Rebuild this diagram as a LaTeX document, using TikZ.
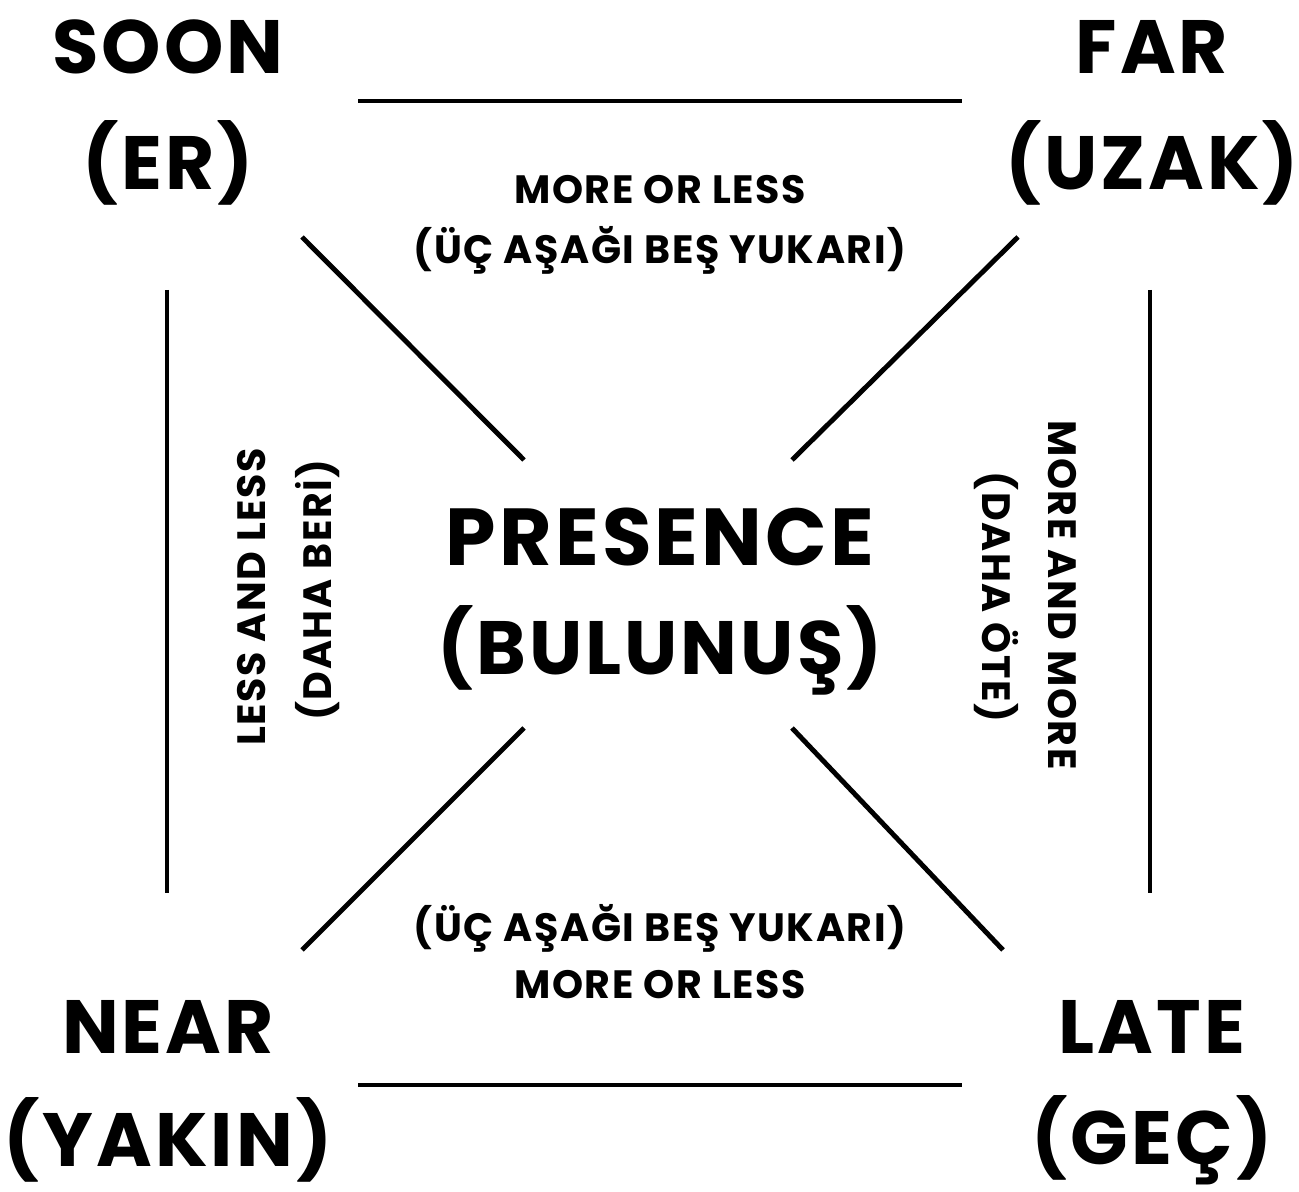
\documentclass[tikz,border=0pt]{standalone}
\usepackage{fontspec}
\setmainfont{Poppins}[LetterSpace=4]
\begin{document}
\begin{tikzpicture}[x=0.02cm,y=-0.02cm,
  ln/.style={line width=2.8pt},
  big/.style={font=\fontsize{43}{50}\selectfont\bfseries, inner sep=0pt, align=center},
  small/.style={font=\fontsize{22.5}{26}\selectfont\bfseries, inner sep=0pt}]
\useasboundingbox[fill=white] (0,0) rectangle (1299,1192);
% corner labels
\node[big] (soon) at (168,47) {SOON};
\node[big] (er) at (168,163) {(ER)};
\node[big] (far) at (1152,47) {FAR};
\node[big] (uzak) at (1152,163) {(UZAK)};
\node[big] (near) at (168,1027) {NEAR};
\node[big] (yakin) at (168,1140) {(YAKIN)};
\node[big] (late) at (1152,1027) {LATE};
\node[big] (gec) at (1152,1140) {(GEÇ)};
\node[big, font=\fontsize{46}{52}\selectfont\bfseries] (pres) at (660,537) {PRESENCE};
\node[big] (bul) at (660,650) {(BULUNUŞ)};
% edge labels
\node[small] (t1) at (660,190) {MORE OR LESS};
\node[small] (t2) at (660,250) {(ÜÇ AŞAĞI BEŞ YUKARI)};
\node[small] (b1) at (660,928) {(ÜÇ AŞAĞI BEŞ YUKARI)};
\node[small] (b2) at (660,985) {MORE OR LESS};
\node[small, rotate=90] (l1) at (252,597) {LESS AND LESS};
\node[small, rotate=90] (l2) at (318,590) {(DAHA BERİ)};
\node[small, rotate=-90] (r1) at (1062,595) {MORE AND MORE};
\node[small, rotate=-90] (r2) at (996,597) {(DAHA ÖTE)};
% line end points
\coordinate (a1) at (358,101); \coordinate (a2) at (962,101);
\coordinate (c1) at (358,1085); \coordinate (c2) at (962,1085);
\coordinate (v1) at (167,290); \coordinate (v2) at (167,893);
\coordinate (w1) at (1150,290); \coordinate (w2) at (1150,893);
\coordinate (d1) at (302,237); \coordinate (d2) at (524,460);
\coordinate (e1) at (1018,237); \coordinate (e2) at (792,460);
\coordinate (f1) at (302,950); \coordinate (f2) at (524,728);
\coordinate (g1) at (1003,950); \coordinate (g2) at (792,728);
\draw[ln] (a1) -- (a2);
\draw[ln] (c1) -- (c2);
\draw[ln] (v1) -- (v2);
\draw[ln] (w1) -- (w2);
\draw[ln] (d1) -- (d2);
\draw[ln] (e1) -- (e2);
\draw[ln] (f1) -- (f2);
\draw[ln] (g1) -- (g2);
\end{tikzpicture}
\end{document}
